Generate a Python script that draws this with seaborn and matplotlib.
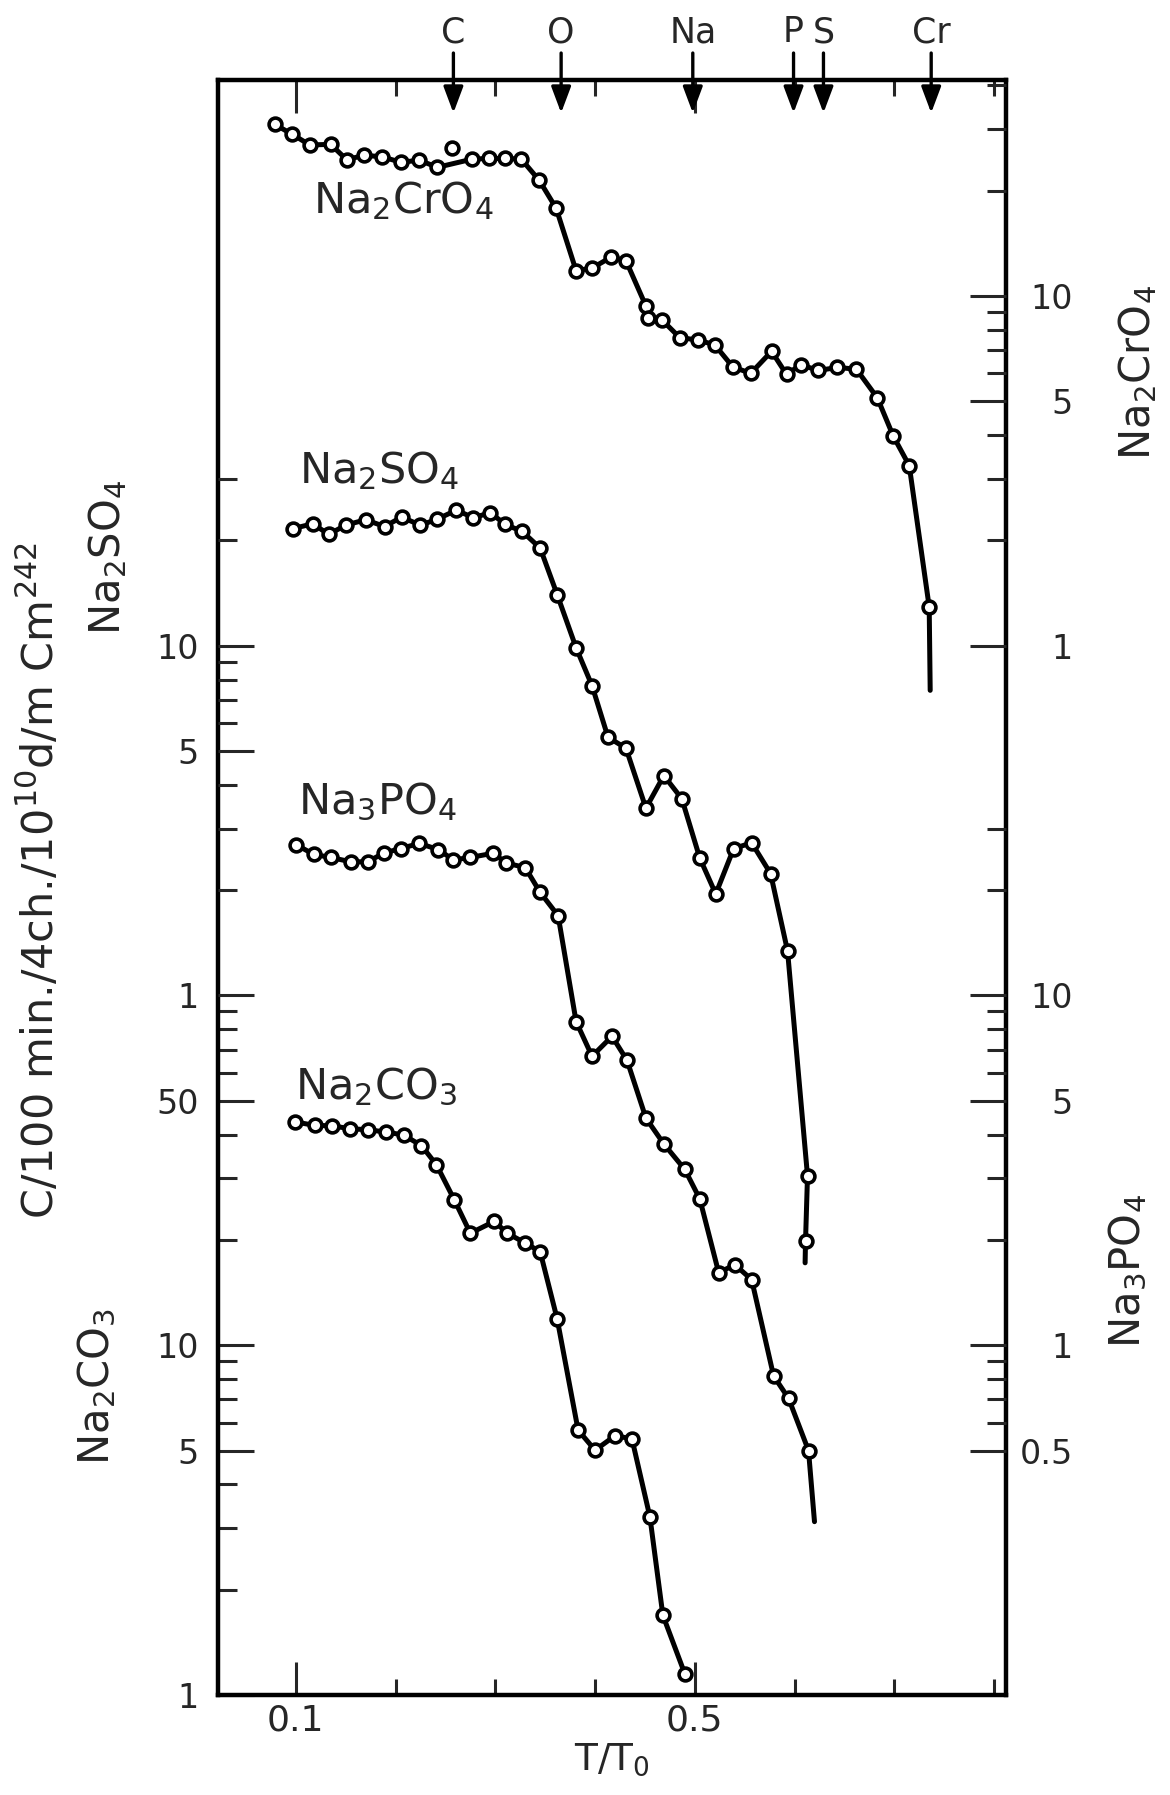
import matplotlib
matplotlib.use("Agg")
import matplotlib.pyplot as plt
import seaborn as sns
import pandas as pd
from matplotlib import font_manager
from matplotlib.ticker import NullFormatter

# ---------------- data ----------------
na2cro4_t = [0.079, 0.096, 0.114, 0.135, 0.151, 0.168, 0.186, 0.205, 0.224, 0.242,
             0.257, 0.277, 0.294, 0.310, 0.326, 0.344, 0.361, 0.381, 0.397, 0.416,
             0.431, 0.451, 0.453, 0.467, 0.485, 0.503, 0.520, 0.538, 0.556, 0.577,
             0.592, 0.606, 0.624, 0.643, 0.662, 0.683, 0.699, 0.715, 0.735]
na2cro4_v = [30.9, 29.0, 27.0, 27.1, 24.5, 25.2, 25.0, 24.1, 24.4, 23.3,
             26.4, 24.6, 24.7, 24.7, 24.6, 21.4, 17.8, 11.8, 12.0, 12.9,
             12.6, 9.35, 8.62, 8.54, 7.59, 7.48, 7.24, 6.27, 6.00, 6.94,
             5.96, 6.35, 6.12, 6.24, 6.17, 5.11, 3.97, 3.27, 1.29]
na2cro4_off_line = [10]
na2cro4_tail_t = [0.736]
na2cro4_tail_v = [0.745]

na2so4_t = [0.097, 0.117, 0.133, 0.150, 0.170, 0.189, 0.206, 0.225, 0.242, 0.261,
            0.278, 0.295, 0.310, 0.327, 0.345, 0.362, 0.381, 0.397, 0.413, 0.431,
            0.451, 0.469, 0.487, 0.505, 0.521, 0.539, 0.557, 0.576, 0.593, 0.613, 0.611]
na2so4_v = [21.6, 22.3, 20.8, 22.1, 22.9, 21.9, 23.3, 22.1, 23.0, 24.4,
            23.2, 24.0, 22.2, 21.2, 19.0, 14.0, 9.86, 7.68, 5.47, 5.09,
            3.43, 4.25, 3.65, 2.47, 1.95, 2.63, 2.73, 2.23, 1.34, 0.305, 0.198]
na2so4_off_line = []
na2so4_tail_t = [0.6106]
na2so4_tail_v = [0.172]

na3po4_t = [0.100, 0.118, 0.135, 0.155, 0.172, 0.188, 0.205, 0.224, 0.243, 0.258,
            0.275, 0.298, 0.311, 0.330, 0.345, 0.363, 0.381, 0.397, 0.417, 0.432,
            0.451, 0.469, 0.490, 0.505, 0.524, 0.540, 0.557, 0.579, 0.594, 0.614]
na3po4_v = [27.0, 25.3, 24.8, 24.1, 24.1, 25.5, 26.3, 27.2, 26.1, 24.4,
            24.8, 25.5, 23.9, 23.2, 19.7, 16.9, 8.42, 6.70, 7.64, 6.53,
            4.46, 3.76, 3.18, 2.62, 1.61, 1.70, 1.54, 0.817, 0.705, 0.500]
na3po4_off_line = []
na3po4_tail_t = [0.620]
na3po4_tail_v = [0.313]

na2co3_t = [0.099, 0.119, 0.136, 0.154, 0.172, 0.190, 0.208, 0.226, 0.241, 0.259,
            0.275, 0.299, 0.312, 0.330, 0.345, 0.362, 0.383, 0.400, 0.420, 0.437,
            0.455, 0.468, 0.490]
na2co3_v = [43.5, 42.5, 42.4, 41.6, 41.3, 40.7, 39.9, 37.2, 32.8, 26.0,
            20.9, 22.6, 20.9, 19.6, 18.5, 11.9, 5.72, 5.01, 5.51, 5.40,
            3.23, 1.69, 1.15]
na2co3_off_line = []
na2co3_tail_t = []
na2co3_tail_v = []

edge_names = ["C", "O", "Na", "P", "S", "Cr"]
edge_t = [0.258, 0.366, 0.498, 0.599, 0.629, 0.737]

x_major = [0.1, 0.5]
x_major_labels = ["0.1", "0.5"]
x_minor = [0.2, 0.3, 0.4, 0.6, 0.7, 0.8]

co3_major = [1, 5, 10, 50]
co3_major_labels = ["1", "5", "10", "50"]
co3_minor = [2, 3, 4, 6, 7, 8, 9, 20, 30, 40, 60, 70, 80, 90]

so4_major = [1, 5, 10]
so4_major_labels = ["1", "5", "10"]
so4_minor = [2, 3, 4, 6, 7, 8, 9, 20, 30]

cro4_major = [1, 5, 10]
cro4_major_labels = ["1", "5", "10"]
cro4_minor = [2, 3, 4, 6, 7, 8, 9, 20, 30, 40]

po4_major = [0.5, 1, 5, 10]
po4_major_labels = ["0.5", "1", "5", "10"]
po4_minor = [0.6, 0.7, 0.8, 0.9, 2, 3, 4, 6, 7, 8, 9, 20, 30]

# decade offset of each curve in the stacked plot
stack_decades = {"Na2CO3": 0, "Na3PO4": 1, "Na2SO4": 2, "Na2CrO4": 3}

# ---------------- style ----------------
sns.set_style("white")
plt.rcParams["font.family"] = ["DejaVu Sans"]
plt.rcParams["mathtext.default"] = "regular"


def has_font(name):
    try:
        font_manager.findfont(font_manager.FontProperties(family=name),
                              fallback_to_default=False)
        return True
    except Exception:
        return False


if has_font("Liberation Sans Narrow"):
    tick_family, tick_size = "Liberation Sans Narrow", 28
else:
    tick_family, tick_size = "DejaVu Sans", 24

XMIN, XMAX = 0.022, 0.812
TOP_DECADES = 4.617

fig = plt.figure(figsize=(11.7, 17.95), dpi=100)
ax = fig.add_axes([218 / 1170, 1 - 1695 / 1795, 788 / 1170, 1615 / 1795])
ax_so4 = ax.twinx()
ax_cro4 = ax.twinx()
ax_po4 = ax.twinx()
ax_so4.yaxis.tick_left()
ax.yaxis.tick_left()

axes_of = {"Na2CO3": ax, "Na2SO4": ax_so4, "Na2CrO4": ax_cro4, "Na3PO4": ax_po4}
for name, a in axes_of.items():
    d = stack_decades[name]
    a.set_yscale("log")
    a.set_ylim(10.0 ** (0 - d), 10.0 ** (TOP_DECADES - d))
ax.set_xlim(XMIN, XMAX)

for a in (ax_so4, ax_cro4, ax_po4):
    for s in a.spines.values():
        s.set_visible(False)
for s in ax.spines.values():
    s.set_linewidth(3.2)
    s.set_color("black")

series = [
    ("Na2CrO4", na2cro4_t, na2cro4_v, na2cro4_off_line, na2cro4_tail_t, na2cro4_tail_v),
    ("Na2SO4", na2so4_t, na2so4_v, na2so4_off_line, na2so4_tail_t, na2so4_tail_v),
    ("Na3PO4", na3po4_t, na3po4_v, na3po4_off_line, na3po4_tail_t, na3po4_tail_v),
    ("Na2CO3", na2co3_t, na2co3_v, na2co3_off_line, na2co3_tail_t, na2co3_tail_v),
]
for name, t, v, off, tt, tv in series:
    a = axes_of[name]
    line_t = [x for i, x in enumerate(t) if i not in off] + list(tt)
    line_v = [y for i, y in enumerate(v) if i not in off] + list(tv)
    dline = pd.DataFrame({"t": line_t, "v": line_v})
    sns.lineplot(data=dline, x="t", y="v", ax=a, color="black", linewidth=3.6,
                 sort=False, estimator=None, zorder=3)
    dpts = pd.DataFrame({"t": t, "v": v})
    sns.scatterplot(data=dpts, x="t", y="v", ax=a, marker="o", s=85,
                    color="white", edgecolor="black", linewidth=2.6, zorder=4)
    a.set_xlabel("")
    a.set_ylabel("")

# ---------------- ticks ----------------
ax.set_xticks(x_major, x_major_labels)
ax.set_xticks(x_minor, minor=True)
ax.tick_params(axis="x", which="major", direction="in", length=24, width=2.2,
               top=True, bottom=True, labeltop=False, labelsize=tick_size + 2,
               labelfontfamily=tick_family, pad=6)
ax.tick_params(axis="x", which="minor", direction="in", length=11.5, width=2.2,
               top=True, bottom=True)

tick_specs = [
    (ax, co3_major, co3_major_labels, co3_minor, "left"),
    (ax_so4, so4_major, so4_major_labels, so4_minor, "left"),
    (ax_cro4, cro4_major, cro4_major_labels, cro4_minor, "right"),
    (ax_po4, po4_major, po4_major_labels, po4_minor, "right"),
]
for a, maj, lab, mnr, side in tick_specs:
    a.set_yticks(maj, lab)
    a.set_yticks(mnr, minor=True)
    a.yaxis.set_minor_formatter(NullFormatter())
    left = side == "left"
    a.tick_params(axis="y", which="both", direction="in", width=2.2,
                  left=left, right=not left, labelleft=left, labelright=not left)
    a.tick_params(axis="y", which="major", length=26, labelsize=tick_size,
                  labelfontfamily=tick_family, pad=14 if left else 48)
    a.tick_params(axis="y", which="minor", length=13.5)
    if not left:
        for tk in a.yaxis.get_major_ticks():
            tk.label2.set_horizontalalignment("right")

# ---------------- labels ----------------
ax.set_xlabel(r"T/T$_0$", fontsize=27)
ax.xaxis.set_label_coords(0.5, -(1760 - 1695) / 1615)
ax.xaxis.label.set_va("center")

ax.set_ylabel(r"C/100 min./4ch./10$^{10}$d/m Cm$^{242}$", fontsize=31)
ax.yaxis.set_label_coords((40 - 218) / 788, 1 - (880 - 79) / 1615)
ax.yaxis.label.set_va("center")

curve_labels = [
    (r"Na$_2$CrO$_4$", 0.120, 0.9176),
    (r"Na$_2$SO$_4$", 0.103, 0.7505),
    (r"Na$_3$PO$_4$", 0.102, 0.5455),
    (r"Na$_2$CO$_3$", 0.098, 0.3690),
]
for txt, x, y in curve_labels:
    ax.text(x, y, txt, transform=ax.transAxes, fontsize=31, ha="left", va="baseline")

side_labels = [
    (r"Na$_2$SO$_4$", -0.1396, 0.7046),
    (r"Na$_2$CO$_3$", -0.1536, 0.1913),
    (r"Na$_2$CrO$_4$", 1.1675, 0.8186),
    (r"Na$_3$PO$_4$", 1.1548, 0.2625),
]
for txt, x, y in side_labels:
    ax.text(x, y, txt, transform=ax.transAxes, fontsize=30, rotation=90,
            ha="center", va="center")

# ---------------- element edge arrows ----------------
for name, t in zip(edge_names, edge_t):
    ax.annotate("", xy=(t, 0.9796), xycoords=("data", "axes fraction"),
                xytext=(t, 1.0167), textcoords=("data", "axes fraction"),
                arrowprops=dict(arrowstyle="-|>,head_length=1.6,head_width=0.6",
                                mutation_scale=10, lw=2.4, color="black",
                                shrinkA=0, shrinkB=0),
                annotation_clip=False, zorder=5)
    ax.text(t, 1.0235, name, transform=ax.get_xaxis_transform(), fontsize=25,
            ha="center", va="baseline")

fig.savefig("out.png", dpi=100)
